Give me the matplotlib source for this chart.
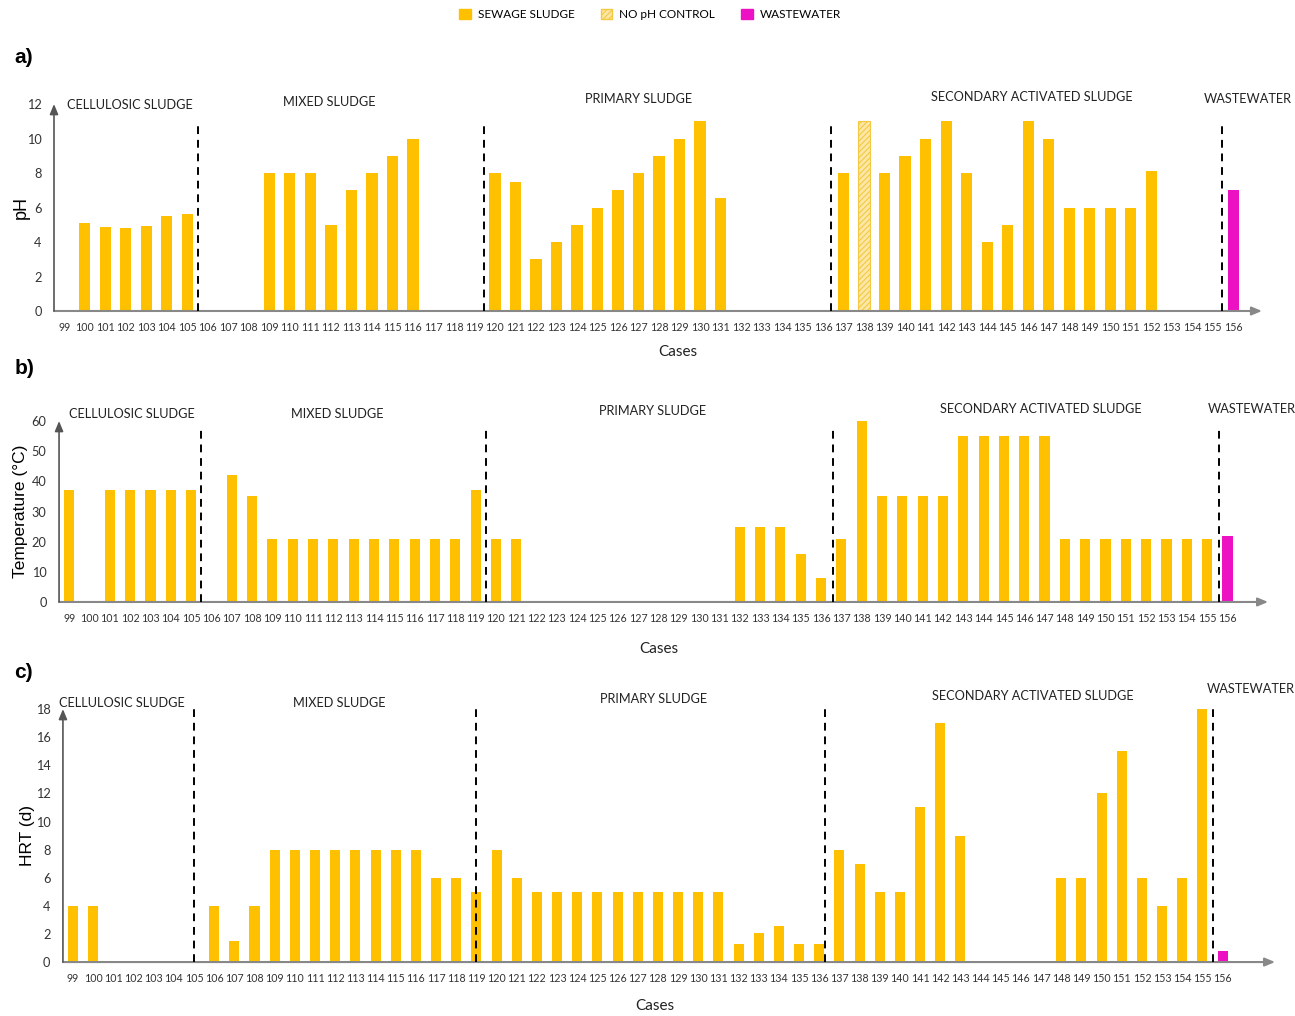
import numpy as np
import matplotlib
matplotlib.use("Agg")
from matplotlib import pyplot as plt
from matplotlib.patches import Patch

cases = list(range(99, 157))

# pH per case (0 = no data)
ph = [0, 5.1, 4.85, 4.8, 4.9, 5.5, 5.65,
      0, 0, 0, 8, 8, 8, 5, 7, 8, 9, 10, 0, 0, 0,
      8, 7.5, 3, 4, 5, 6, 7, 8, 9, 10, 11, 6.55, 0, 0, 0, 0, 0,
      8, 11, 8, 9, 10, 11, 8, 4, 5, 11, 10, 6, 6, 6, 6, 8.1, 0, 0, 0,
      7]

# temperature per case, °C
temp = [37, 0, 37, 37, 37, 37, 37,
        0, 42, 35, 21, 21, 21, 21, 21, 21, 21, 21, 21, 21, 37,
        21, 21, 0, 0, 0, 0, 0, 0, 0, 0, 0, 0, 25, 25, 25, 16, 8,
        21, 60, 35, 35, 35.3, 35, 55, 55, 55, 55, 55, 21, 21, 21, 21, 21, 21, 21, 21,
        22]

# hydraulic retention time per case, days
hrt = [4, 4, 0, 0, 0, 0, 0,
       4, 1.5, 4, 8, 8, 8, 8, 8, 8, 8, 8, 6, 6, 5,
       8, 6, 5, 5, 5, 5, 5, 5, 5, 5, 5, 5, 1.25, 2.05, 2.55, 1.25, 1.25,
       8, 7, 5, 5, 11, 17, 9, 0, 0, 0, 0, 6, 6, 12, 15, 6, 4, 6, 18,
       0.8]

no_ph_control = [138]
wastewater = [156]

groups = ["CELLULOSIC SLUDGE", "MIXED SLUDGE", "PRIMARY SLUDGE",
          "SECONDARY ACTIVATED SLUDGE", "WASTEWATER"]

ORANGE = "#FFC000"
MAGENTA = "#EC12C4"
HATCH_FILL = "#FCE8A6"

plt.rcParams["hatch.color"] = "#F2B705"
plt.rcParams["hatch.linewidth"] = 0.8

fig = plt.figure(figsize=(12.95, 10.16), dpi=100)


def panel(rect, values, ylim, yticks, ylabel, splits, split_top, xmax,
          label_pos, label_y, xlabel_xy, ylabel_x, width=0.52, ylabel_size=12.5):
    ax = fig.add_axes(rect)
    colors = []
    for c in cases:
        colors.append(MAGENTA if c in wastewater else ORANGE)
    bars = ax.bar(cases, values, width=width, color=colors, zorder=2)
    for b, c in zip(bars, cases):
        if ylabel == "pH" and c in no_ph_control:
            b.set_facecolor(HATCH_FILL)
            b.set_edgecolor("#F5C842")
            b.set_linewidth(0.8)
            b.set_hatch("//////")

    ax.set_xlim(98.5, xmax)
    ax.set_ylim(*ylim)
    ax.set_xticks(cases)
    ax.set_xticklabels([str(c) for c in cases], fontsize=7.7, family="Lato",
                       color="#333333")
    ax.set_yticks(yticks)
    ax.set_yticklabels([str(t) for t in yticks], fontsize=9.2, family="Lato",
                       color="#333333")
    ax.tick_params(length=0)
    ax.tick_params(axis="x", pad=8)
    ax.tick_params(axis="y", pad=9)
    for s in ax.spines.values():
        s.set_visible(False)

    # axis lines with arrow heads
    ax.annotate("", xy=(1, 0), xytext=(0, 0), xycoords="axes fraction",
                arrowprops=dict(arrowstyle="-|>,head_length=0.6,head_width=0.25",
                                color="#888888", lw=1.5, shrinkA=0, shrinkB=0),
                zorder=3)
    ax.annotate("", xy=(0, 1.0), xytext=(0, 0), xycoords="axes fraction",
                arrowprops=dict(arrowstyle="-|>,head_length=0.6,head_width=0.25",
                                color="#555555", lw=1.2, shrinkA=0, shrinkB=0),
                zorder=3)

    for x in splits:
        ax.plot([x, x], [0, split_top], color="black", ls=(0, (4, 3)),
                lw=1.4, zorder=3)

    for name, x, y in zip(groups, label_pos, label_y):
        ax.text(x, y, name, ha="center", va="center", fontsize=9.2,
                family="Lato", color="#222222", clip_on=False)

    ax.set_ylabel(ylabel, fontsize=ylabel_size, family="Liberation Sans")
    ax.yaxis.set_label_coords(ylabel_x, 0.5)
    ax.set_xlabel("Cases", fontsize=11, family="Lato", color="#222222")
    ax.xaxis.set_label_coords(*xlabel_xy)
    return ax


ax_a = panel([0.0417, 0.6939, 0.9328, 0.2037], ph, (0, 12),
             [0, 2, 4, 6, 8, 10, 12], "pH",
             [105.5, 119.45, 136.4, 155.45], 10.8, 157.4,
             [102.2, 111.9, 127.0, 146.2, 156.7],
             [11.95, 12.1, 12.3, 12.4, 12.3], (0.516, -0.166), -0.020,
             width=0.55, ylabel_size=13)

ax_b = panel([0.0456, 0.4075, 0.9336, 0.1781], temp, (0, 60),
             [0, 10, 20, 30, 40, 50, 60], "Temperature (°C)",
             [105.5, 119.5, 136.6, 155.6], 58, 158.0,
             [102.1, 112.2, 127.7, 146.8, 157.2],
             [62.3, 62.3, 63.3, 64.0, 64.0], (0.496, -0.222), -0.0255,
             width=0.5)

ax_c = panel([0.0486, 0.0531, 0.936, 0.249], hrt, (0, 18),
             [0, 2, 4, 6, 8, 10, 12, 14, 16, 18], "HRT (d)",
             [105.0, 119.0, 136.3, 155.5], 18.1, 158.6,
             [101.4, 112.2, 127.8, 146.6, 157.4],
             [18.4, 18.4, 18.7, 18.9, 19.4], (0.488, -0.145), -0.023,
             width=0.5)

for ax, lab, y in [(ax_a, "a)", 0.943), (ax_b, "b)", 0.637), (ax_c, "c)", 0.338)]:
    fig.text(0.011, y, lab, fontsize=15, fontweight="bold",
             family="Liberation Sans", va="center")

handles = [
    Patch(facecolor=ORANGE, edgecolor=ORANGE, label="SEWAGE SLUDGE"),
    Patch(facecolor=HATCH_FILL, edgecolor="#F5C842", hatch="//////",
          label="NO pH CONTROL"),
    Patch(facecolor=MAGENTA, edgecolor=MAGENTA, label="WASTEWATER"),
]
fig.legend(handles=handles, loc="center", bbox_to_anchor=(0.502, 0.986),
           ncol=3, frameon=False, prop={"family": "Lato", "size": 8.5},
           handlelength=1.0, handleheight=1.0, columnspacing=2.2,
           handletextpad=0.6)

fig.savefig("out.png", dpi=100)
